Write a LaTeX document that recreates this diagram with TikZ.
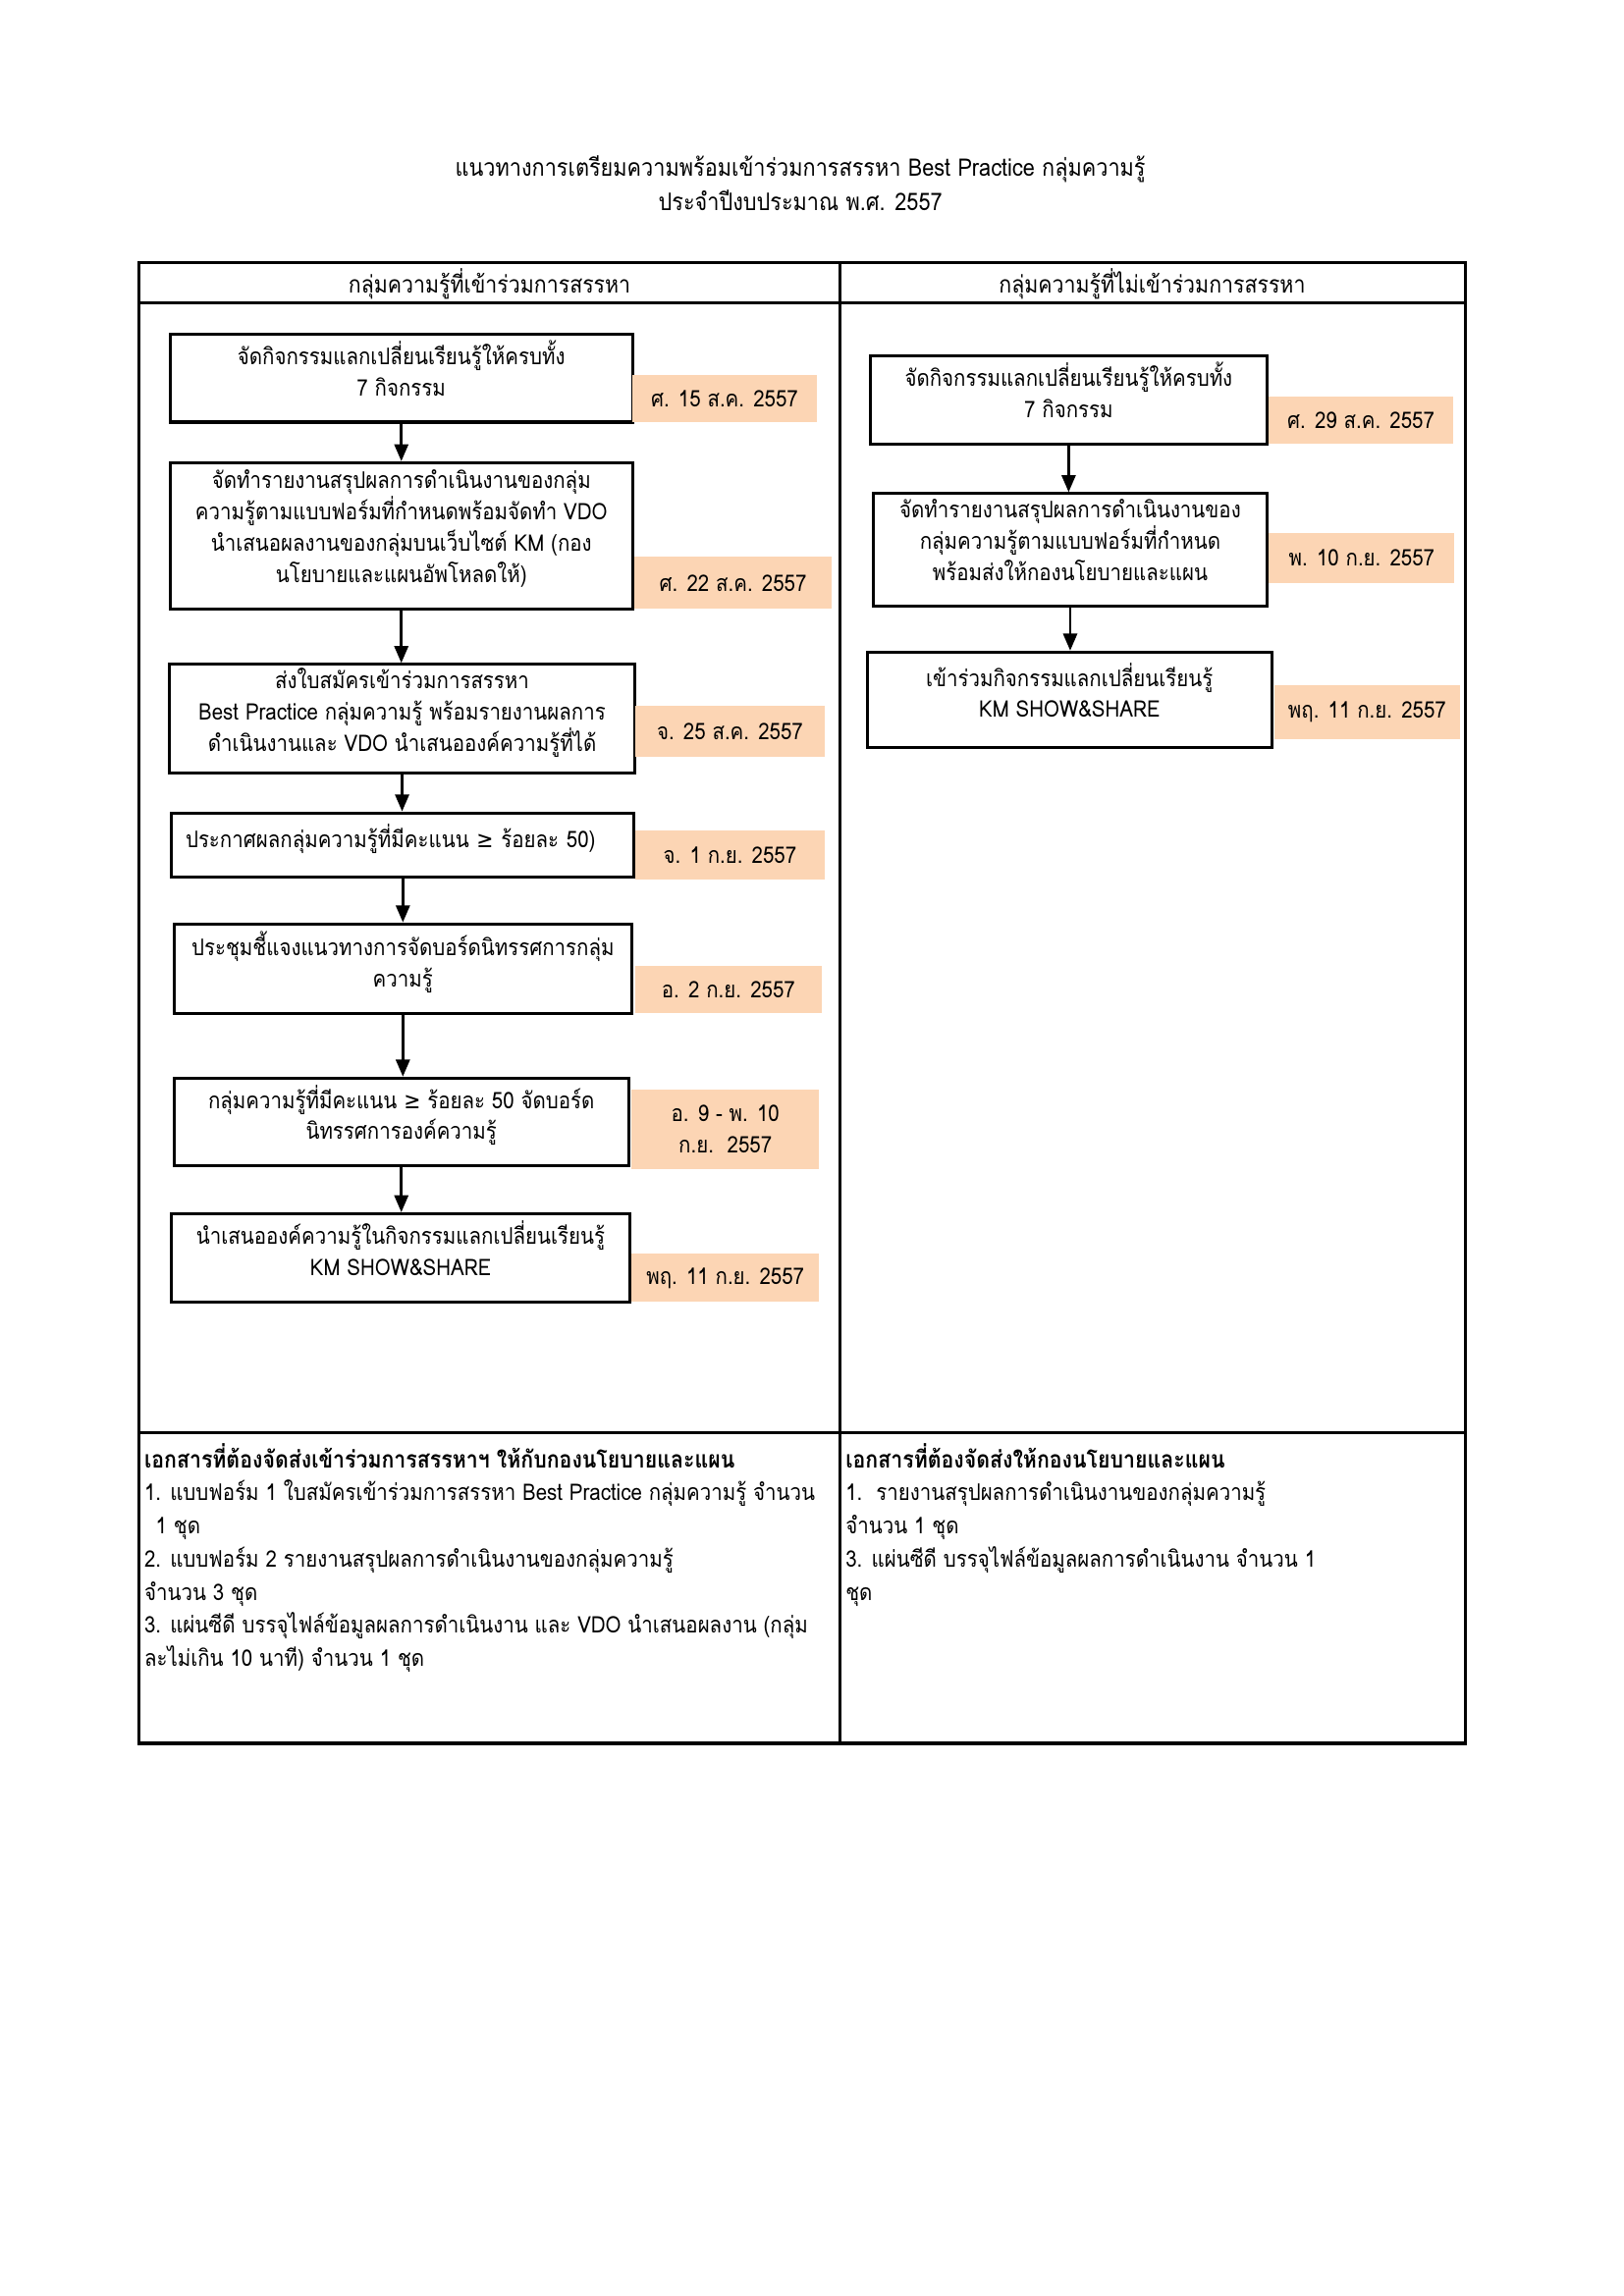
\documentclass[tikz,border=0pt]{standalone}
\usepackage{fontspec}
\setmainfont[Script=Thai, FakeStretch=0.88]{Loma}
\newfontfamily\symfont[FakeStretch=0.88]{DejaVu Sans}
\usetikzlibrary{arrows.meta, positioning}
\definecolor{datepeach}{RGB}{252,213,180}

\begin{document}
\begin{tikzpicture}[
        stepbox/.style={draw, line width=1.1pt, align=center, inner sep=0pt, font=\fontsize{8.4}{11.5}\selectfont,
            execute at end node={\rule[-7pt]{0pt}{0pt}}},
        datebox/.style={fill=datepeach, align=center, inner sep=0pt, font=\fontsize{8.4}{11.5}\selectfont},
        arrow/.style={-{Triangle[length=2.2mm, width=1.8mm]}, line width=0.9pt},
        grid/.style={line width=1.2pt}
    ]
        \useasboundingbox (0,0) rectangle (21,-29.7);

        % Title
        \node[align=center, font=\fontsize{8.9}{12.4}\selectfont] (title) at (10.35,-2.37)
            {แนวทางการเตรียมความพร้อมเข้าร่วมการสรรหา Best Practice กลุ่มความรู้\\ประจำปีงบประมาณ พ.ศ. 2557};

        % Table frame
        \draw[grid] (1.80,-3.40) rectangle (18.95,-22.55);
        \draw[grid] (1.80,-3.92) -- (18.95,-3.92);
        \draw[grid] (1.80,-18.53) -- (18.95,-18.53);
        \draw[grid] (10.86,-3.40) -- (10.86,-22.55);

        % Headers
        \node[font=\fontsize{8.75}{12}\selectfont] (headL) at (6.33,-3.67) {กลุ่มความรู้ที่เข้าร่วมการสรรหา};
        \node[font=\fontsize{8.75}{12}\selectfont] (headR) at (14.90,-3.67) {กลุ่มความรู้ที่ไม่เข้าร่วมการสรรหา};

        % Left column: steps
        \node[stepbox, minimum width=5.98cm, minimum height=1.14cm] (b1) at (5.19,-4.89)
            {จัดกิจกรรมแลกเปลี่ยนเรียนรู้ให้ครบทั้ง\\7 กิจกรรม};
        \node[datebox, minimum width=2.39cm, minimum height=0.61cm] (d1) at (9.37,-5.16) {ศ. 15 ส.ค. 2557};

        \node[stepbox, minimum width=5.98cm, minimum height=1.89cm] (b2) at (5.19,-6.93)
            {จัดทำรายงานสรุปผลการดำเนินงานของกลุ่ม\\ความรู้ตามแบบฟอร์มที่กำหนดพร้อมจัดทำ VDO\\นำเสนอผลงานของกลุ่มบนเว็บไซต์ KM (กอง\\นโยบายและแผนอัพโหลดให้)};
        \node[datebox, minimum width=2.55cm, minimum height=0.67cm] (d2) at (9.48,-7.54) {ศ. 22 ส.ค. 2557};

        \node[stepbox, minimum width=6.03cm, minimum height=1.41cm] (b3) at (5.20,-9.30)
            {ส่งใบสมัครเข้าร่วมการสรรหา\\Best Practice กลุ่มความรู้ พร้อมรายงานผลการ\\ดำเนินงานและ VDO นำเสนอองค์ความรู้ที่ได้};
        \node[datebox, minimum width=2.45cm, minimum height=0.65cm] (d3) at (9.44,-9.46) {จ. 25 ส.ค. 2557};

        \node[stepbox, minimum width=5.98cm, minimum height=0.83cm, text width=5.62cm, align=left] (b4) at (5.21,-10.93)
            {ประกาศผลกลุ่มความรู้ที่มีคะแนน {\symfont ≥} ร้อยละ 50)};
        \node[datebox, minimum width=2.45cm, minimum height=0.64cm] (d4) at (9.44,-11.06) {จ. 1 ก.ย. 2557};

        \node[stepbox, minimum width=5.92cm, minimum height=1.16cm] (b5) at (5.21,-12.53)
            {ประชุมชี้แจงแนวทางการจัดบอร์ดนิทรรศการกลุ่ม\\ความรู้};
        \node[datebox, minimum width=2.41cm, minimum height=0.62cm] (d5) at (9.42,-12.80) {อ. 2 ก.ย. 2557};

        \node[stepbox, minimum width=5.88cm, minimum height=1.13cm] (b6) at (5.19,-14.51)
            {กลุ่มความรู้ที่มีคะแนน {\symfont ≥} ร้อยละ 50 จัดบอร์ด\\นิทรรศการองค์ความรู้};
        \node[datebox, minimum width=2.43cm, minimum height=1.02cm] (d6) at (9.38,-14.61) {อ. 9 - พ. 10\\ก.ย.~~2557};

        \node[stepbox, minimum width=5.92cm, minimum height=1.14cm] (b7) at (5.18,-16.27)
            {นำเสนอองค์ความรู้ในกิจกรรมแลกเปลี่ยนเรียนรู้\\KM SHOW\&SHARE};
        \node[datebox, minimum width=2.43cm, minimum height=0.62cm] (d7) at (9.38,-16.53) {พฤ. 11 ก.ย. 2557};

        % Right column: steps
        \node[stepbox, minimum width=5.13cm, minimum height=1.14cm] (r1) at (13.82,-5.17)
            {จัดกิจกรรมแลกเปลี่ยนเรียนรู้ให้ครบทั้ง\\7 กิจกรรม};
        \node[datebox, minimum width=2.39cm, minimum height=0.61cm] (rd1) at (17.60,-5.44) {ศ. 29 ส.ค. 2557};

        \node[stepbox, minimum width=5.09cm, minimum height=1.45cm] (r2) at (13.84,-7.11)
            {จัดทำรายงานสรุปผลการดำเนินงานของ\\กลุ่มความรู้ตามแบบฟอร์มที่กำหนด\\พร้อมส่งให้กองนโยบายและแผน};
        \node[datebox, minimum width=2.40cm, minimum height=0.65cm] (rd2) at (17.61,-7.22) {พ. 10 ก.ย. 2557};

        \node[stepbox, minimum width=5.23cm, minimum height=1.23cm] (r3) at (13.83,-9.05)
            {เข้าร่วมกิจกรรมแลกเปลี่ยนเรียนรู้\\KM SHOW\&SHARE};
        \node[datebox, minimum width=2.40cm, minimum height=0.69cm] (rd3) at (17.68,-9.21) {พฤ. 11 ก.ย. 2557};

        % Arrows
        \foreach \i/\j in {b1/b2, b2/b3, b3/b4, b4/b5, b5/b6, b6/b7, r1/r2, r2/r3} {
            \draw[arrow] (\i.south) -- (\i.south |- \j.north);
        }

        % Documents to send
        \node[anchor=north west, align=left, inner sep=0pt, font=\fontsize{8.4}{12.2}\selectfont] (docsL) at (1.86,-18.66)
            {{\fontsize{8.75}{12.2}\selectfont\bfseries เอกสารที่ต้องจัดส่งเข้าร่วมการสรรหาฯ ให้กับกองนโยบายและแผน}\\
             1. แบบฟอร์ม 1 ใบสมัครเข้าร่วมการสรรหา Best Practice กลุ่มความรู้ จำนวน\\
             \hspace*{0.5em}1 ชุด\\
             2. แบบฟอร์ม 2 รายงานสรุปผลการดำเนินงานของกลุ่มความรู้\\
             จำนวน 3 ชุด\\
             3. แผ่นซีดี บรรจุไฟล์ข้อมูลผลการดำเนินงาน และ VDO นำเสนอผลงาน (กลุ่ม\\
             ละไม่เกิน 10 นาที) จำนวน 1 ชุด};
        \node[anchor=north west, align=left, inner sep=0pt, font=\fontsize{8.4}{12.2}\selectfont] (docsR) at (10.93,-18.66)
            {{\fontsize{8.75}{12.2}\selectfont\bfseries เอกสารที่ต้องจัดส่งให้กองนโยบายและแผน}\\
             1.\hspace*{0.6em}รายงานสรุปผลการดำเนินงานของกลุ่มความรู้\\
             จำนวน 1 ชุด\\
             3. แผ่นซีดี บรรจุไฟล์ข้อมูลผลการดำเนินงาน จำนวน 1\\
             ชุด};

    \end{tikzpicture}
\end{document}
